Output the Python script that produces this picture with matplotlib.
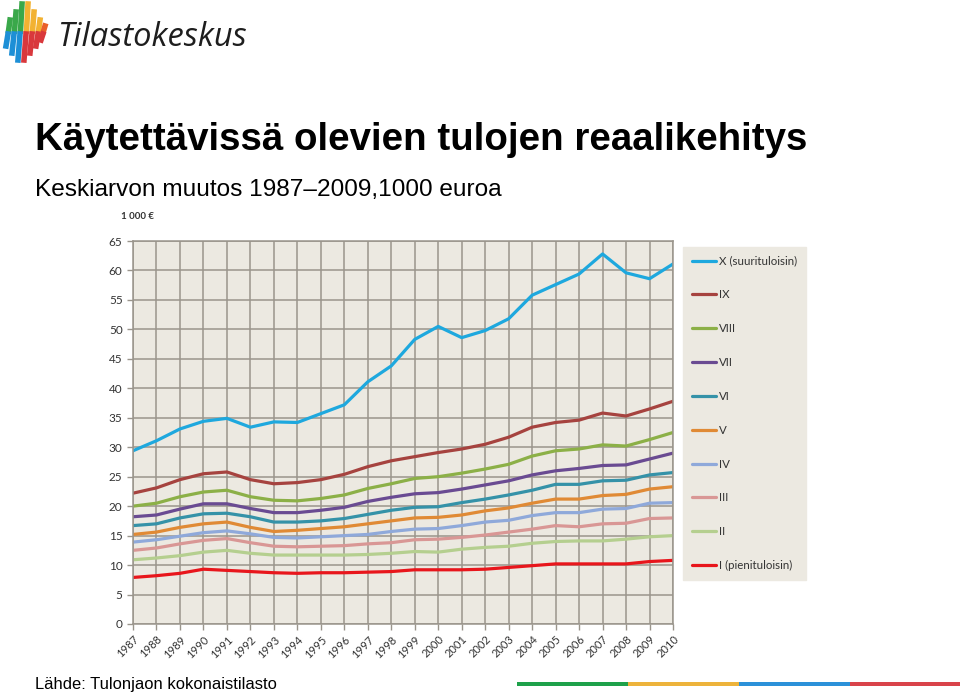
import matplotlib
matplotlib.use("Agg")
import matplotlib.pyplot as plt
from matplotlib.patches import Rectangle

# Data (1000 €)
years = list(range(1987, 2011))

decile_x = [29.4, 31.1, 33.1, 34.4, 34.9, 33.4, 34.3, 34.2, 35.7, 37.2, 41.1, 43.8,
            48.3, 50.5, 48.6, 49.8, 51.8, 55.8, 57.6, 59.4, 62.8, 59.6, 58.6, 61.1]
decile_9 = [22.2, 23.1, 24.5, 25.5, 25.8, 24.5, 23.8, 24.0, 24.5, 25.4, 26.7, 27.7,
            28.4, 29.1, 29.7, 30.5, 31.7, 33.4, 34.2, 34.6, 35.8, 35.3, 36.5, 37.8]
decile_8 = [20.0, 20.5, 21.6, 22.4, 22.7, 21.6, 21.0, 20.9, 21.3, 21.9, 23.0, 23.8,
            24.7, 25.0, 25.6, 26.3, 27.1, 28.5, 29.4, 29.7, 30.4, 30.2, 31.3, 32.5]
decile_7 = [18.2, 18.5, 19.5, 20.4, 20.4, 19.6, 18.9, 18.9, 19.3, 19.8, 20.8, 21.5,
            22.1, 22.3, 22.9, 23.6, 24.3, 25.3, 26.0, 26.4, 26.9, 27.0, 28.0, 29.0]
decile_6 = [16.7, 17.0, 18.0, 18.7, 18.8, 18.2, 17.3, 17.3, 17.5, 17.9, 18.6, 19.3,
            19.8, 19.9, 20.6, 21.2, 21.9, 22.7, 23.7, 23.7, 24.3, 24.4, 25.3, 25.7]
decile_5 = [15.2, 15.6, 16.4, 17.0, 17.3, 16.4, 15.7, 15.9, 16.2, 16.5, 17.0, 17.5,
            18.0, 18.1, 18.5, 19.2, 19.7, 20.5, 21.2, 21.2, 21.8, 22.0, 22.9, 23.3]
decile_4 = [13.9, 14.3, 14.9, 15.5, 15.8, 15.3, 14.7, 14.6, 14.8, 15.0, 15.2, 15.7,
            16.1, 16.2, 16.7, 17.3, 17.6, 18.4, 18.9, 18.9, 19.5, 19.6, 20.5, 20.6]
decile_3 = [12.5, 12.9, 13.6, 14.2, 14.5, 13.8, 13.2, 13.1, 13.2, 13.3, 13.6, 13.8,
            14.3, 14.4, 14.7, 15.1, 15.6, 16.1, 16.7, 16.5, 17.0, 17.1, 17.9, 18.0]
decile_2 = [10.9, 11.2, 11.6, 12.2, 12.5, 12.0, 11.7, 11.7, 11.7, 11.7, 11.8, 12.0,
            12.3, 12.2, 12.7, 13.0, 13.2, 13.7, 14.0, 14.1, 14.1, 14.4, 14.8, 15.0]
decile_1 = [7.9, 8.2, 8.6, 9.3, 9.1, 8.9, 8.7, 8.6, 8.7, 8.7, 8.8, 8.9,
            9.2, 9.2, 9.2, 9.3, 9.6, 9.9, 10.2, 10.2, 10.2, 10.2, 10.6, 10.8]

series = [decile_x, decile_9, decile_8, decile_7, decile_6,
          decile_5, decile_4, decile_3, decile_2, decile_1]
labels = ['X (suurituloisin)', 'IX', 'VIII', 'VII', 'VI',
          'V', 'IV', 'III', 'II', 'I (pienituloisin)']
colors = ['#1ea8de', '#a6433f', '#8cb047', '#6a4b92', '#3592a8',
          '#e08a35', '#8fa9da', '#d99795', '#b5cf8f', '#e8161c']

bg = '#ece9e1'
grid_col = '#9a958c'

fig = plt.figure(figsize=(9.6, 6.92), dpi=100)
ax = fig.add_axes([133 / 960, 1 - 624 / 692, 540 / 960, 383 / 692])
ax.set_facecolor(bg)

for vals, lab, col in zip(series, labels, colors):
    ax.plot(years, vals, color=col, lw=2.3, label=lab, solid_capstyle='round')

ax.set_xlim(1987, 2010)
ax.set_ylim(0, 65)
ax.set_xticks(years)
ax.set_xticklabels([str(y) for y in years], rotation=45, ha='right',
                   rotation_mode='anchor', fontsize=8, family='Lato', color='#333333')
ax.set_yticks(range(0, 66, 5))
ax.set_yticklabels([str(v) for v in range(0, 66, 5)], fontsize=8.5,
                   family='Lato', color='#333333')
ax.grid(True, color=grid_col, lw=1.1)
ax.set_axisbelow(True)
for s in ax.spines.values():
    s.set_color(grid_col)
    s.set_linewidth(1.1)
ax.tick_params(axis='both', colors=grid_col, length=4, width=1, labelcolor='#333333')
ax.tick_params(axis='x', pad=3)

leg = fig.legend(loc='upper left', bbox_to_anchor=(683 / 960, 1 - 247 / 692),
                 frameon=True, fancybox=False, facecolor=bg, edgecolor=bg,
                 prop={'family': 'Lato', 'size': 8.3}, labelspacing=1.98,
                 handlelength=2.1, handletextpad=0.25, borderpad=0.75,
                 borderaxespad=0)
leg.get_frame().set_alpha(1)
for t in leg.get_texts():
    t.set_color('#333333')

# Titles
fig.text(35 / 960, 1 - 150 / 692, 'Käytettävissä olevien tulojen reaalikehitys',
         fontsize=27.7, fontweight='bold', family='Liberation Sans', va='baseline')
fig.text(35 / 960, 1 - 196 / 692, 'Keskiarvon muutos 1987–2009,1000 euroa',
         fontsize=17.6, family='Liberation Sans', va='baseline')
fig.text(121 / 960, 1 - 219 / 692, '1 000 €', fontsize=7, fontweight='bold',
         family='Lato', va='baseline', color='#333333')
fig.text(35 / 960, 1 - 689 / 692, 'Lähde: Tulonjaon kokonaistilasto',
         fontsize=11.9, family='Liberation Sans', va='baseline')

# Logo text and mark
fig.text(57 / 960, 1 - 46 / 692, 'Tilastokeskus', fontsize=23.5, family='Open Sans',
         style='italic', color='#1e1e1e', va='baseline')
logo_cols = [(7, 20, 46, '#3aa84a', '#1d8fd6'), (13, 12, 53, '#3aa84a', '#1d8fd6'),
             (19, 4, 60, '#3aa84a', '#1d8fd6'), (25, 4, 60, '#f2b232', '#d9383c'),
             (31, 12, 53, '#f2b232', '#d9383c'), (37, 20, 46, '#f2b232', '#d9383c'),
             (42, 26, 40, '#e9602a', '#d9383c')]
for x0, ytop, ybot, ctop, cbot in logo_cols:
    fig.add_artist(plt.Line2D([(x0 + 3) / 960, (x0 + 1.5) / 960],
                              [1 - ytop / 692, 1 - 31 / 692], color=ctop, lw=4,
                              transform=fig.transFigure))
    fig.add_artist(plt.Line2D([(x0 + 1) / 960, (x0 - 1) / 960],
                              [1 - 34 / 692, 1 - ybot / 692], color=cbot, lw=4,
                              transform=fig.transFigure))

# Colour strip at the bottom right
strip = ['#1ea14a', '#edb33b', '#2b91d9', '#d9434a']
for i, c in enumerate(strip):
    fig.add_artist(Rectangle(((517 + i * 111) / 960, 1 - 686 / 692), 111 / 960, 4 / 692,
                             color=c, transform=fig.transFigure, lw=0))

fig.savefig('out.png', dpi=100, facecolor='white')
